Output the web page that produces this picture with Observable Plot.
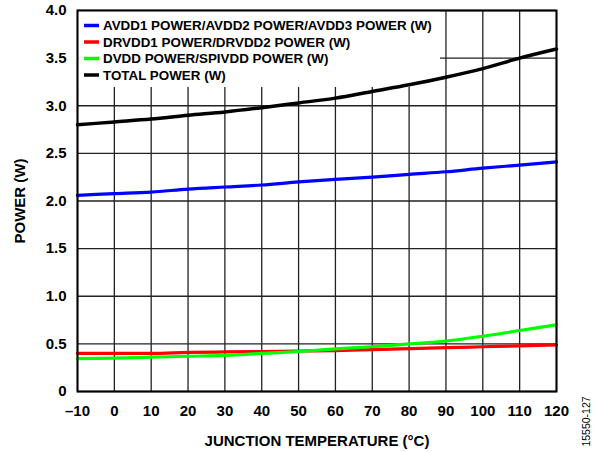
<!DOCTYPE html>
<html>
<head>
<meta charset="utf-8">
<script src="https://cdn.jsdelivr.net/npm/d3@7"></script>
<script src="https://cdn.jsdelivr.net/npm/@observablehq/plot@0.6"></script>
<style>
  html, body { margin: 0; padding: 0; background: #fff; }
  svg { display: block; }
</style>
</head>
<body>
<div id="chart"></div>
<script>
// ---- data ----
const temps = [-10, 0, 10, 20, 30, 40, 50, 60, 70, 80, 90, 100, 110, 120];
const avddPower  = [2.06, 2.077, 2.094, 2.125, 2.147, 2.168, 2.20, 2.227, 2.25, 2.28, 2.307, 2.345, 2.377, 2.41];
const drvddPower = [0.40, 0.40, 0.40, 0.41, 0.415, 0.42, 0.425, 0.43, 0.44, 0.45, 0.46, 0.47, 0.48, 0.49];
const dvddPower  = [0.345, 0.35, 0.36, 0.37, 0.38, 0.40, 0.42, 0.447, 0.47, 0.50, 0.53, 0.58, 0.64, 0.70];
const totalPower = [2.80, 2.83, 2.86, 2.90, 2.935, 2.98, 3.03, 3.08, 3.15, 3.22, 3.30, 3.39, 3.50, 3.595];

const seriesNames = [
  "AVDD1 POWER/AVDD2 POWER/AVDD3 POWER (W)",
  "DRVDD1 POWER/DRVDD2 POWER (W)",
  "DVDD POWER/SPIVDD POWER (W)",
  "TOTAL POWER (W)"
];
const seriesColors = ["#0000ff", "#ff0000", "#00ff00", "#000000"];
const seriesValues = [avddPower, drvddPower, dvddPower, totalPower];

const xTicks = [-10, 0, 10, 20, 30, 40, 50, 60, 70, 80, 90, 100, 110, 120];
const yTicks = [0, 0.5, 1.0, 1.5, 2.0, 2.5, 3.0, 3.5, 4.0];
const xLabel = "JUNCTION TEMPERATURE (°C)";
const yLabel = "POWER (W)";
const figureId = "15550-127";

// ---- build long table ----
const rows = [];
seriesNames.forEach((name, i) => {
  temps.forEach((t, j) => rows.push({series: name, temp: t, power: seriesValues[i][j]}));
});

const FONT = "Arial, 'Liberation Sans', Helvetica, sans-serif";

const chart = Plot.plot({
  width: 599,
  height: 452,
  marginLeft: 77,
  marginRight: 43,
  marginTop: 10,
  marginBottom: 61,
  style: {fontFamily: FONT, fontWeight: "bold", fontSize: "15px", color: "#000", background: "#fff"},
  x: {domain: [-10, 120]},
  y: {domain: [0, 4]},
  color: {domain: seriesNames, range: seriesColors},
  marks: [
    Plot.gridX(xTicks, {stroke: "#222", strokeOpacity: 1, strokeWidth: 1.3}),
    Plot.gridY(yTicks, {stroke: "#222", strokeOpacity: 1, strokeWidth: 1.3}),
    Plot.axisX({ticks: xTicks, tickSize: 0, tickPadding: 14,
      tickFormat: d => d < 0 ? "\u2013" + (-d) : String(d),
      label: xLabel, labelAnchor: "center", labelArrow: "none", labelOffset: 54, fontSize: 15}),
    Plot.axisY({ticks: yTicks, tickSize: 0, tickPadding: 11,
      tickFormat: d => d === 0 ? "0" : d.toFixed(1),
      label: yLabel, labelAnchor: "center", labelArrow: "none", labelOffset: 63, fontSize: 15}),
    Plot.line(rows, {x: "temp", y: "power", z: "series", stroke: "series",
      strokeWidth: d => d.series === "TOTAL POWER (W)" ? 3.5 : 3.2, curve: "monotone-x"}),
    Plot.frame({stroke: "#000", strokeWidth: 2})
  ]
});

document.getElementById("chart").appendChild(chart);

// ---- legend (inside the plot, white background hides the grid; lines stay above it) ----
const svg = d3.select(chart);
const lineGroup = svg.select('[aria-label="line"]').node();
const lgNode = document.createElementNS("http://www.w3.org/2000/svg", "g");
if (lineGroup) chart.insertBefore(lgNode, lineGroup); else chart.appendChild(lgNode);
const lg = d3.select(lgNode).attr("class", "legend");
lg.append("rect").attr("x", 78.5).attr("y", 11).attr("width", 361.5).attr("height", 76).attr("fill", "#fff");
seriesNames.forEach((name, i) => {
  const yy = 25.5 + i * 16.5;
  lg.append("line").attr("x1", 84).attr("x2", 99).attr("y1", yy).attr("y2", yy)
    .attr("stroke", seriesColors[i]).attr("stroke-width", 3.5);
  lg.append("text").attr("x", 103).attr("y", yy).attr("dy", "0.35em")
    .attr("text-anchor", "start")
    .attr("font-family", FONT).attr("font-weight", "bold").attr("font-size", 13.4)
    .attr("fill", "#000").text(name);
});

// ---- figure id, rotated at right ----
svg.append("text")
  .attr("transform", "translate(590,421.5) rotate(-90)")
  .attr("text-anchor", "middle")
  .attr("font-family", FONT).attr("font-weight", "normal").attr("font-size", 10.5)
  .attr("fill", "#000").text(figureId);
</script>
</body>
</html>
